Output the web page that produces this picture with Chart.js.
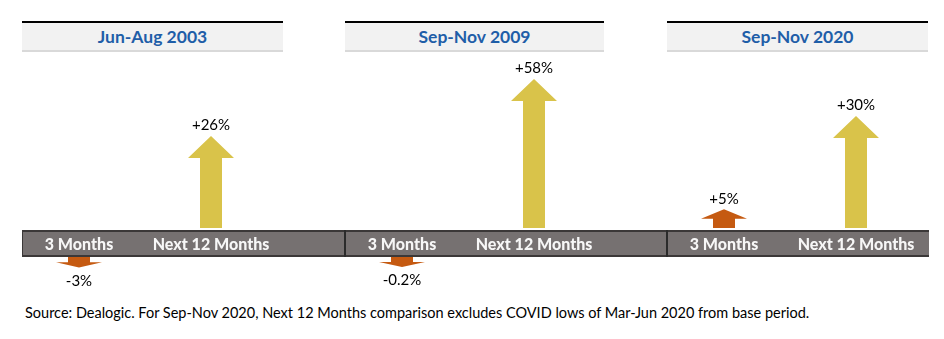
<!DOCTYPE html>
<html>
<head>
<meta charset="utf-8">
<script src="https://cdn.jsdelivr.net/npm/chart.js@4.4.1/dist/chart.umd.min.js"></script>
<style>
  body { margin: 0; background: #fff; }
  #page { position: relative; width: 944px; height: 339px; overflow: hidden; font-family: Lato, "Open Sans", sans-serif; }
  .head { position: absolute; top: 21px; height: 27px; background: #f2f2f2; border-top: 2px solid #000; border-bottom: 2px solid #d9d9d9;
          color: #1f5ea8; font-weight: bold; font-size: 17.5px; line-height: 27px; text-align: center; }
  #band { position: absolute; left: 22px; top: 230px; width: 906px; height: 23px; background: #767171;
          border-top: 2px solid #3b3838; border-bottom: 2px solid #3b3838; border-left: 1.5px solid #3b3838; }
  .divider { position: absolute; top: 230px; width: 1.5px; height: 27px; background: #2b2b2b; }
  canvas { position: absolute; top: 0; }
  #note { position: absolute; left: 25px; top: 304px; font-size: 14.5px; color: #000; white-space: nowrap; }
</style>
</head>
<body>
<div id="page">
  <div id="band"></div>
  <div id="note">Source: Dealogic. For Sep-Nov 2020, Next 12 Months comparison excludes COVID lows of Mar-Jun 2020 from base period.</div>
</div>
<script>
// periods compared, and the change in volume after each one
const periods = ['Jun-Aug 2003', 'Sep-Nov 2009', 'Sep-Nov 2020'];
const horizons = ['3 Months', 'Next 12 Months'];
const threeMonths = [-3, -0.2, 5];
const nextTwelveMonths = [26, 58, 30];

// each panel has its own vertical scale
const panelMax = [47.5, 65.4, 45];
const panelLeft = [22, 345, 667];
const panelRight = [283, 604, 928];

const arrowColors = ['#c55a11', '#d9c34a'];
const bandGap = 29;   // height of the grey strip between the up and down arrows

const page = document.getElementById('page');

const fmt = v => (v > 0 ? '+' : '') + v + '%';

// bars are drawn as arrows, using the bar geometry computed by the scales
const arrowPlugin = {
    id: 'arrows',
    beforeDatasetsDraw(chart) {
        const ctx = chart.ctx;
        chart.data.datasets.forEach((ds, di) => {
            const meta = chart.getDatasetMeta(di);
            meta.data.forEach((bar, i) => {
                const v = ds.data[i];
                let { x, y, base, width } = bar.getProps(['x', 'y', 'base', 'width'], true);
                const dir = v < 0 ? 1 : -1;
                if (v < 0) { y += bandGap; base += bandGap; }
                const len = Math.abs(y - base);
                const head = Math.min(22, len * 0.5);
                const half = width / 2;
                const headHalf = width + 1;
                const neck = y - dir * head;
                ctx.save();
                ctx.fillStyle = ds.backgroundColor[i];
                ctx.beginPath();
                ctx.moveTo(x - half, base);
                ctx.lineTo(x - half, neck);
                ctx.lineTo(x - headHalf, neck);
                ctx.lineTo(x, y);
                ctx.lineTo(x + headHalf, neck);
                ctx.lineTo(x + half, neck);
                ctx.lineTo(x + half, base);
                ctx.closePath();
                ctx.fill();

                ctx.fillStyle = '#000';
                ctx.font = '15px Lato, sans-serif';
                ctx.textAlign = 'center';
                ctx.textBaseline = v < 0 ? 'top' : 'bottom';
                ctx.fillText(fmt(v), x, v < 0 ? y + 6 : y - 3);
                ctx.restore();
            });
        });
        return false;
    }
};

periods.forEach((period, p) => {
    const head = document.createElement('div');
    head.className = 'head';
    head.style.left = panelLeft[p] + 'px';
    head.style.width = (panelRight[p] - panelLeft[p]) + 'px';
    head.textContent = period;
    page.appendChild(head);

    if (p > 0) {
        const d = document.createElement('div');
        d.className = 'divider';
        d.style.left = (panelLeft[p] - 1) + 'px';
        page.appendChild(d);
    }

    const canvas = document.createElement('canvas');
    canvas.width = 264;
    canvas.height = 339;
    canvas.style.left = (panelLeft[p] - 9) + 'px';
    page.appendChild(canvas);

    const values = [threeMonths[p], nextTwelveMonths[p]];

    new Chart(canvas.getContext('2d'), {
        type: 'bar',
        data: {
            labels: horizons,
            datasets: [{
                data: values,
                backgroundColor: arrowColors,
                barThickness: 22,
                minBarLength: 10
            }]
        },
        options: {
            responsive: false,
            animation: false,
            layout: { padding: { top: 60, bottom: 39, left: 0, right: 0 } },
            plugins: {
                legend: { display: false },
                tooltip: { enabled: false }
            },
            scales: {
                x: {
                    position: { y: 0 },
                    grid: { display: false, drawTicks: false },
                    border: { display: false },
                    ticks: {
                        color: '#f7f7f7',
                        font: { family: 'Lato', size: 16, weight: '900' },
                        padding: 7
                    }
                },
                y: {
                    display: false,
                    min: -panelMax[p] * 72 / 168,
                    max: panelMax[p]
                }
            }
        },
        plugins: [arrowPlugin]
    });
});
</script>
</body>
</html>
